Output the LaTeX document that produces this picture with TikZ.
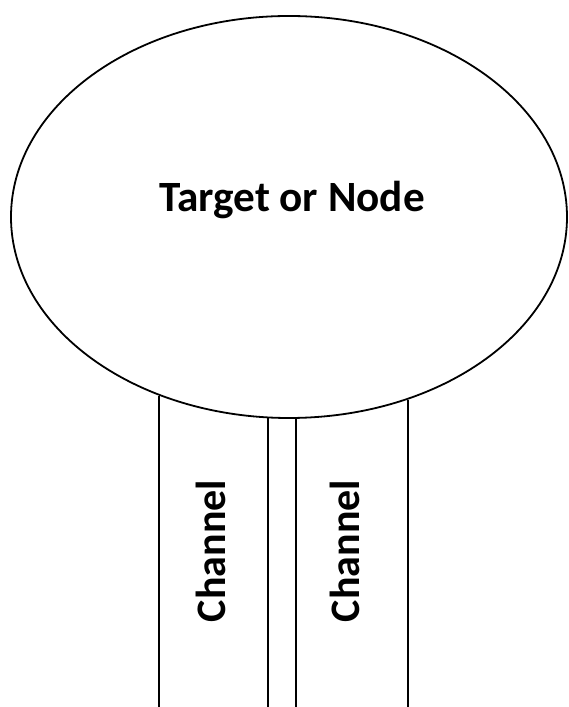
\documentclass[tikz,border=0pt]{standalone}
\usepackage{fontspec}
\setmainfont{Carlito}
\usetikzlibrary{shapes.geometric}

\begin{document}
\begin{tikzpicture}[x=0.5pt,y=0.5pt,
    wall/.style={line width=0.9pt},
    tag/.style={font=\fontsize{21}{25}\selectfont\bfseries,inner sep=0pt}]
  \useasboundingbox (0,0) rectangle (568,707);

  \node[draw,ellipse,line width=0.9pt,inner sep=0pt,
        minimum width=278pt,minimum height=201pt] (target) at (289,490) {};
  \node[tag,font=\fontsize{21.6}{26}\selectfont\bfseries] (targetlabel) at (292,507) {Target or Node};

  \coordinate (floor) at (0,0);
  \draw[wall] (target.234.9) -- (target.234.9 |- floor);
  \draw[wall] (target.264.3) -- (target.264.3 |- floor);
  \draw[wall] (target.272.3) -- (target.272.3 |- floor);
  \draw[wall] (target.303.5) -- (target.303.5 |- floor);

  \node[tag,rotate=90] (channelA) at (211,156) {Channel};
  \node[tag,rotate=90] (channelB) at (345,156) {Channel};
\end{tikzpicture}
\end{document}
